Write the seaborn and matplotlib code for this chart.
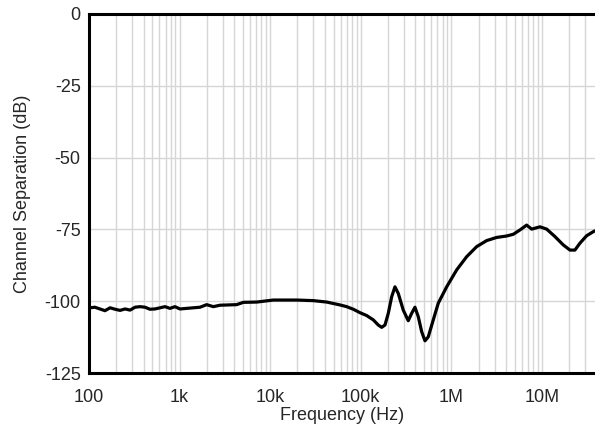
import numpy as np
import pandas as pd
import seaborn as sns
import matplotlib.pyplot as plt
from matplotlib.ticker import FixedLocator, LogLocator, NullFormatter

# Values (Hz, dB)
freq = [102.6, 116, 132, 150, 171, 194, 220, 250, 284, 322, 366, 415, 471, 535,
        608, 690, 783, 889, 1009, 1302, 1680, 1990, 2357, 2790, 4266, 5050, 7095,
        10820, 19620, 29930, 42060, 58900, 69900, 82700, 98000, 116200, 137400,
        156000, 170200, 185000, 201300, 219500, 238400, 259400, 294500, 334400,
        364700, 396300, 431300, 469900, 511400, 556100, 631400, 716700, 887400,
        1.144e6, 1.475e6, 1.902e6, 2.452e6, 3.162e6, 4.077e6, 4.822e6, 5.715e6,
        6.776e6, 7.695e6, 9.506e6, 1.127e7, 1.391e7, 1.718e7, 2.037e7, 2.312e7,
        2.625e7, 3.114e7, 3.683e7, 3.846e7]
sep_db = [-102.3, -102.1, -102.7, -103.3, -102.3, -102.8, -103.2, -102.7, -103.1,
          -102.1, -101.9, -102.1, -102.8, -102.7, -102.3, -101.9, -102.5, -101.9,
          -102.7, -102.4, -102.1, -101.2, -101.9, -101.4, -101.2, -100.4, -100.3,
          -99.6, -99.6, -99.8, -100.3, -101.3, -101.9, -102.8, -104.0, -105.0, -106.5,
          -108.3, -109.1, -108.3, -104.2, -98.4, -95.0, -97.3, -103.1, -106.8,
          -104.2, -102.1, -105.4, -110.6, -113.8, -112.4, -106.5, -100.7, -95.0,
          -89.1, -84.5, -81.0, -78.9, -77.8, -77.3, -76.7, -75.2,
          -73.5, -74.9, -74.1, -74.9, -77.5, -80.4, -82.2, -82.2,
          -79.8, -77.2, -75.8, -75.5]

x_ticks = [1e2, 1e3, 1e4, 1e5, 1e6, 1e7]
x_labels = ["100", "1k", "10k", "100k", "1M", "10M"]
y_ticks = [0, -25, -50, -75, -100, -125]

df = pd.DataFrame({"freq": freq, "sep": sep_db})

sns.set_style("white")
plt.rcParams["font.family"] = ["Liberation Sans", "DejaVu Sans"]

fig = plt.figure(figsize=(5.95, 4.28), dpi=100)
ax = fig.add_axes([89 / 595, 1 - 373 / 428, 1 - 89 / 595, (373 - 14) / 428])

sns.lineplot(data=df, x="freq", y="sep", color="black", linewidth=2.3, ax=ax,
             solid_joinstyle="round", solid_capstyle="round")

ax.set_xscale("log")
ax.set_xlim(100, 3.85e7)
ax.set_ylim(-125, 0)
ax.xaxis.set_major_locator(FixedLocator(x_ticks))
ax.set_xticklabels(x_labels)
ax.xaxis.set_minor_locator(LogLocator(base=10, subs=np.arange(2, 10)))
ax.xaxis.set_minor_formatter(NullFormatter())
ax.set_yticks(y_ticks)
ax.set_yticklabels([str(t) for t in y_ticks])

ax.grid(True, which="both", axis="x", color="#d6d6d6", linewidth=1)
ax.grid(True, which="major", axis="y", color="#d6d6d6", linewidth=1)
ax.tick_params(which="both", length=0, labelsize=13)
ax.tick_params(axis="y", pad=6)
ax.tick_params(axis="x", pad=11.5)

for side in ["left", "bottom", "top"]:
    ax.spines[side].set_color("black")
    ax.spines[side].set_linewidth(2.2)
ax.spines["right"].set_visible(False)

ax.set_xlabel("Frequency (Hz)", fontsize=13, labelpad=1)
ax.set_ylabel("Channel Separation (dB)", fontsize=13, labelpad=10)

fig.savefig("out.png", dpi=100)
